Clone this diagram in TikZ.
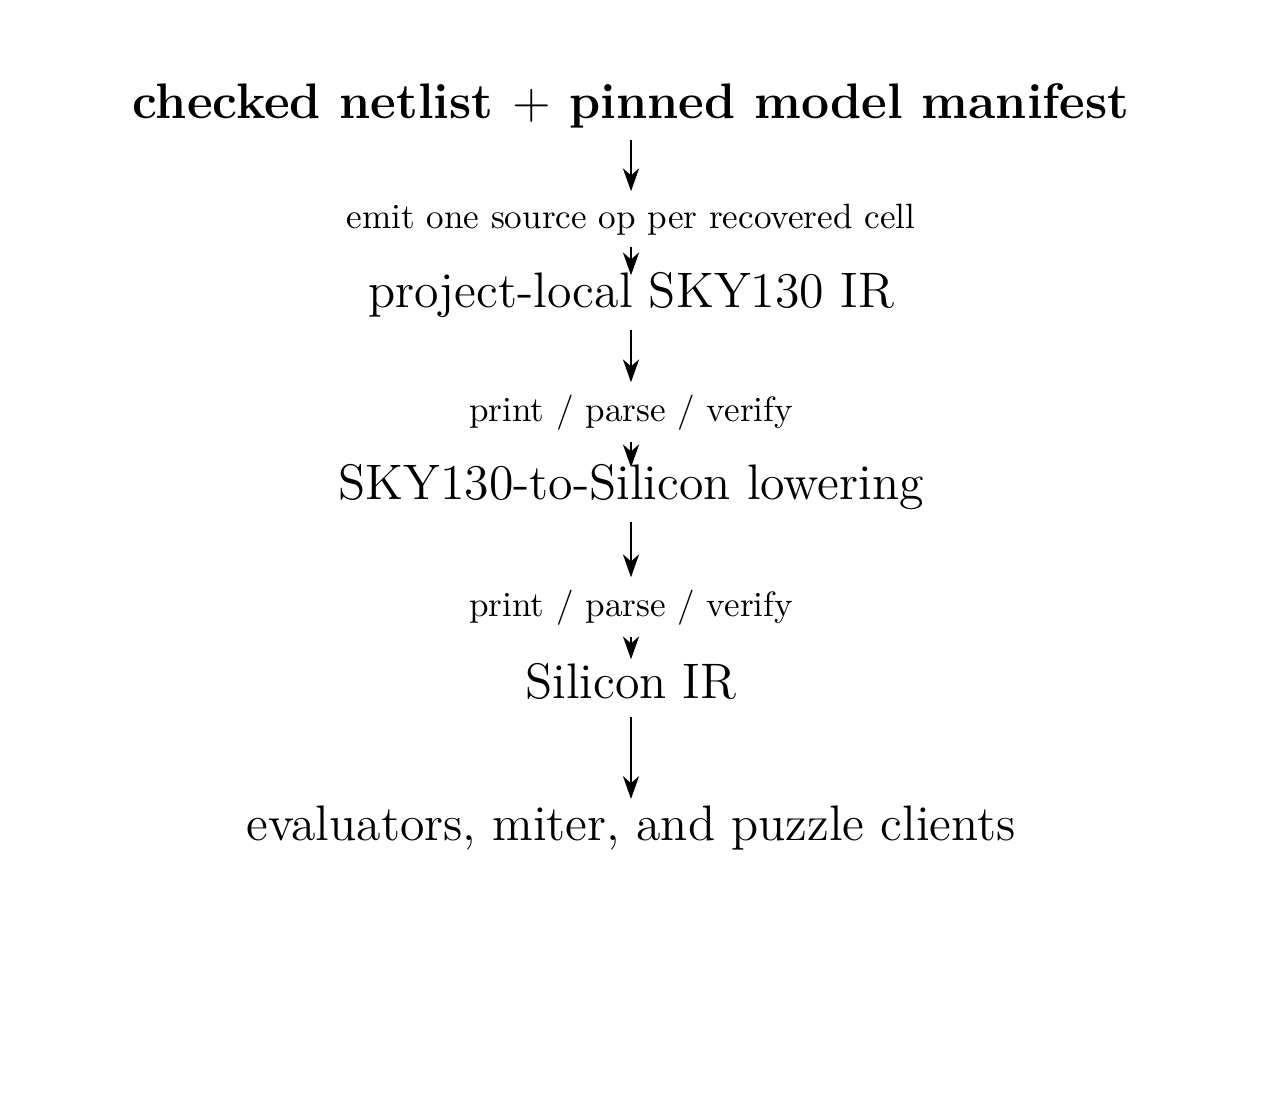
\documentclass[tikz,border=0pt]{standalone}
\usepackage{xcolor}
\usepackage{tikz}
\usetikzlibrary{arrows.meta}

\begin{document}
\begin{tikzpicture}[
	stage/.style={anchor=base,font=\fontsize{14.2}{17}\selectfont},
	pass/.style={anchor=base,font=\normalsize},
	flow/.style={-{Stealth[length=6.5pt,width=4.6pt,inset=2pt]},line width=0.5pt},
	into/.style={flow,shorten >=-4.5pt}]
	\useasboundingbox (0,0) rectangle (12.65,-11.11);
	\node[stage,font=\fontsize{14.2}{17}\selectfont\bfseries] (Netlist) at (6.31,-1.18) {checked netlist $+$ pinned model manifest};
	\node[pass]  (Emit)      at (6.31,-2.28) {emit one source op per recovered cell};
	\node[stage] (LocalIR)   at (6.31,-3.07) {project-local SKY130 IR};
	\node[pass]  (VerifyA)   at (6.31,-4.21) {print / parse / verify};
	\node[stage] (Lowering)  at (6.31,-4.99) {SKY130-to-Silicon lowering};
	\node[pass]  (VerifyB)   at (6.31,-6.16) {print / parse / verify};
	\node[stage] (SiliconIR) at (6.31,-6.98) {Silicon IR};
	\node[stage] (Clients)   at (6.31,-8.40) {evaluators, miter, and puzzle clients};
	% draw the arrows
	\draw[flow] (Netlist)   -- (Emit);
	\draw[into] (Emit)      -- (LocalIR);
	\draw[flow] (LocalIR)   -- (VerifyA);
	\draw[into] (VerifyA)   -- (Lowering);
	\draw[flow] (Lowering)  -- (VerifyB);
	\draw[into,shorten >=-2.5pt] (VerifyB) -- (SiliconIR);
	\draw[flow,shorten <=1.7pt,shorten >=-1.7pt] (SiliconIR) -- (Clients);
\end{tikzpicture}
\end{document}
